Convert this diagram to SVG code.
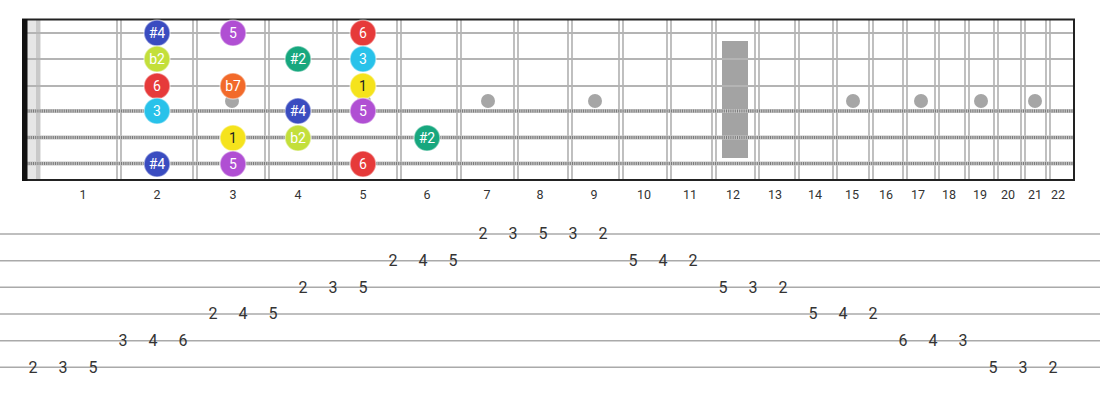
<svg xmlns="http://www.w3.org/2000/svg" width="1100" height="400" viewBox="0 0 1100 400">
<style>
.fret{stroke:#b0b0b0;stroke-width:1.6}
.plain{stroke:#b4b4b4;stroke-width:2.2}
.woundb{stroke:#c4c4c4;stroke-width:4}
.woundd{stroke:#7a7a7a;stroke-width:3;stroke-dasharray:1 1.2}
.dot{fill:#a6a6a6}
.fn{font-family:Roboto,"Liberation Sans",sans-serif;font-size:12.5px;fill:#333;text-anchor:middle}
.tabl{stroke:#aaa;stroke-width:1.6}
.tn{font-family:Roboto,"Liberation Sans",sans-serif;font-size:16px;fill:#333;text-anchor:middle}
.nc{stroke:rgba(255,255,255,0.45);stroke-width:1.6}
.nt{font-family:Roboto,"Liberation Sans",sans-serif;font-size:14px;fill:#fff;text-anchor:middle}
.dk{fill:#222}
.blue{fill:#3a4cc0}.purple{fill:#b04fd3}.red{fill:#e63a3a}.lime{fill:#c3df3a}.teal{fill:#17a77e}.cyan{fill:#28c2ea}.orange{fill:#f26a2a}.yellow{fill:#f5e31c}
</style>
<rect width="1100" height="400" fill="#fff"/>
<g id="fretboard">
  <rect x="27" y="19" width="14" height="162" fill="#e6e6e6"/>
  <rect x="36" y="19" width="4" height="162" fill="#c9c9c9"/>
  <rect x="722" y="41" width="26" height="117" fill="#a3a3a3"/>
  <g id="frets">
    <line class="fret" x1="117" y1="19" x2="117" y2="180"/><line class="fret" x1="121" y1="19" x2="121" y2="180"/>
    <line class="fret" x1="193" y1="19" x2="193" y2="180"/><line class="fret" x1="197" y1="19" x2="197" y2="180"/>
    <line class="fret" x1="265" y1="19" x2="265" y2="180"/><line class="fret" x1="269" y1="19" x2="269" y2="180"/>
    <line class="fret" x1="333" y1="19" x2="333" y2="180"/><line class="fret" x1="337" y1="19" x2="337" y2="180"/>
    <line class="fret" x1="397" y1="19" x2="397" y2="180"/><line class="fret" x1="401" y1="19" x2="401" y2="180"/>
    <line class="fret" x1="457" y1="19" x2="457" y2="180"/><line class="fret" x1="461" y1="19" x2="461" y2="180"/>
    <line class="fret" x1="514" y1="19" x2="514" y2="180"/><line class="fret" x1="518" y1="19" x2="518" y2="180"/>
    <line class="fret" x1="568" y1="19" x2="568" y2="180"/><line class="fret" x1="572" y1="19" x2="572" y2="180"/>
    <line class="fret" x1="619" y1="19" x2="619" y2="180"/><line class="fret" x1="623" y1="19" x2="623" y2="180"/>
    <line class="fret" x1="667" y1="19" x2="667" y2="180"/><line class="fret" x1="671" y1="19" x2="671" y2="180"/>
    <line class="fret" x1="712" y1="19" x2="712" y2="180"/><line class="fret" x1="716" y1="19" x2="716" y2="180"/>
    <line class="fret" x1="755" y1="19" x2="755" y2="180"/><line class="fret" x1="759" y1="19" x2="759" y2="180"/>
    <line class="fret" x1="795" y1="19" x2="795" y2="180"/><line class="fret" x1="799" y1="19" x2="799" y2="180"/>
    <line class="fret" x1="833" y1="19" x2="833" y2="180"/><line class="fret" x1="837" y1="19" x2="837" y2="180"/>
    <line class="fret" x1="869" y1="19" x2="869" y2="180"/><line class="fret" x1="873" y1="19" x2="873" y2="180"/>
    <line class="fret" x1="903" y1="19" x2="903" y2="180"/><line class="fret" x1="907" y1="19" x2="907" y2="180"/>
    <line class="fret" x1="935" y1="19" x2="935" y2="180"/><line class="fret" x1="939" y1="19" x2="939" y2="180"/>
    <line class="fret" x1="965" y1="19" x2="965" y2="180"/><line class="fret" x1="969" y1="19" x2="969" y2="180"/>
    <line class="fret" x1="994" y1="19" x2="994" y2="180"/><line class="fret" x1="998" y1="19" x2="998" y2="180"/>
    <line class="fret" x1="1021" y1="19" x2="1021" y2="180"/><line class="fret" x1="1025" y1="19" x2="1025" y2="180"/>
    <line class="fret" x1="1046" y1="19" x2="1046" y2="180"/><line class="fret" x1="1050" y1="19" x2="1050" y2="180"/>
  </g>
  <g id="inlays">
    <circle class="dot" cx="232" cy="101" r="7"/>
    <circle class="dot" cx="364" cy="101" r="7"/>
    <circle class="dot" cx="488" cy="101" r="7"/>
    <circle class="dot" cx="595" cy="101" r="7"/>
    <circle class="dot" cx="853" cy="101" r="7"/>
    <circle class="dot" cx="921" cy="101" r="7"/>
    <circle class="dot" cx="981" cy="101" r="7"/>
    <circle class="dot" cx="1035" cy="101" r="7"/>
  </g>
  <g id="strings">
    <line class="plain" x1="22" y1="33" x2="1075" y2="33"/>
    <line class="plain" x1="22" y1="59" x2="1075" y2="59"/>
    <line class="plain" x1="22" y1="86" x2="1075" y2="86"/>
    <line class="woundb" x1="22" y1="111" x2="1075" y2="111"/><line class="woundd" x1="22" y1="111" x2="1075" y2="111"/>
    <line class="woundb" x1="22" y1="137.5" x2="1075" y2="137.5"/><line class="woundd" x1="22" y1="137.5" x2="1075" y2="137.5"/>
    <line class="woundb" x1="22" y1="163.5" x2="1075" y2="163.5"/><line class="woundd" x1="22" y1="163.5" x2="1075" y2="163.5"/>
  </g>
  <line x1="22" y1="19.5" x2="1075" y2="19.5" stroke="#222" stroke-width="2"/>
  <line x1="22" y1="180" x2="1075" y2="180" stroke="#222" stroke-width="2"/>
  <line x1="1074" y1="19" x2="1074" y2="181" stroke="#222" stroke-width="2"/>
  <rect x="22" y="19" width="5.5" height="162" fill="#111"/>
</g>
<g id="fret-numbers">
  <text class="fn" x="83" y="199">1</text>
  <text class="fn" x="157" y="199">2</text>
  <text class="fn" x="233" y="199">3</text>
  <text class="fn" x="298" y="199">4</text>
  <text class="fn" x="363" y="199">5</text>
  <text class="fn" x="427" y="199">6</text>
  <text class="fn" x="487" y="199">7</text>
  <text class="fn" x="540" y="199">8</text>
  <text class="fn" x="594" y="199">9</text>
  <text class="fn" x="644" y="199">10</text>
  <text class="fn" x="690" y="199">11</text>
  <text class="fn" x="733" y="199">12</text>
  <text class="fn" x="775" y="199">13</text>
  <text class="fn" x="815" y="199">14</text>
  <text class="fn" x="852" y="199">15</text>
  <text class="fn" x="886" y="199">16</text>
  <text class="fn" x="918" y="199">17</text>
  <text class="fn" x="949" y="199">18</text>
  <text class="fn" x="980" y="199">19</text>
  <text class="fn" x="1008" y="199">20</text>
  <text class="fn" x="1035" y="199">21</text>
  <text class="fn" x="1058" y="199">22</text>
</g>
<g id="notes">
  <g id="n1-2"><circle class="nc blue" cx="157" cy="33" r="13"/><text class="nt" x="157" y="38">#4</text></g>
  <g id="n1-3"><circle class="nc purple" cx="233" cy="33" r="13"/><text class="nt" x="233" y="38">5</text></g>
  <g id="n1-5"><circle class="nc red" cx="363" cy="33" r="13"/><text class="nt" x="363" y="38">6</text></g>
  <g id="n2-2"><circle class="nc lime" cx="157" cy="59" r="13"/><text class="nt" x="157" y="64">b2</text></g>
  <g id="n2-4"><circle class="nc teal" cx="298" cy="59" r="13"/><text class="nt" x="298" y="64">#2</text></g>
  <g id="n2-5"><circle class="nc cyan" cx="363" cy="59" r="13"/><text class="nt" x="363" y="64">3</text></g>
  <g id="n3-2"><circle class="nc red" cx="157" cy="86" r="13"/><text class="nt" x="157" y="91">6</text></g>
  <g id="n3-3"><circle class="nc orange" cx="233" cy="86" r="13"/><text class="nt" x="233" y="91">b7</text></g>
  <g id="n3-5"><circle class="nc yellow" cx="363" cy="86" r="13"/><text class="nt dk" x="363" y="91">1</text></g>
  <g id="n4-2"><circle class="nc cyan" cx="157" cy="111" r="13"/><text class="nt" x="157" y="116">3</text></g>
  <g id="n4-4"><circle class="nc blue" cx="298" cy="111" r="13"/><text class="nt" x="298" y="116">#4</text></g>
  <g id="n4-5"><circle class="nc purple" cx="363" cy="111" r="13"/><text class="nt" x="363" y="116">5</text></g>
  <g id="n5-3"><circle class="nc yellow" cx="233" cy="138" r="13"/><text class="nt dk" x="233" y="143">1</text></g>
  <g id="n5-4"><circle class="nc lime" cx="298" cy="138" r="13"/><text class="nt" x="298" y="143">b2</text></g>
  <g id="n5-6"><circle class="nc teal" cx="427" cy="138" r="13"/><text class="nt" x="427" y="143">#2</text></g>
  <g id="n6-2"><circle class="nc blue" cx="157" cy="164" r="13"/><text class="nt" x="157" y="169">#4</text></g>
  <g id="n6-3"><circle class="nc purple" cx="233" cy="164" r="13"/><text class="nt" x="233" y="169">5</text></g>
  <g id="n6-5"><circle class="nc red" cx="363" cy="164" r="13"/><text class="nt" x="363" y="169">6</text></g>
</g>
<g id="tab-lines">
  <line class="tabl" x1="0" y1="234" x2="1100" y2="234"/>
  <line class="tabl" x1="0" y1="260.7" x2="1100" y2="260.7"/>
  <line class="tabl" x1="0" y1="287.3" x2="1100" y2="287.3"/>
  <line class="tabl" x1="0" y1="314" x2="1100" y2="314"/>
  <line class="tabl" x1="0" y1="340.7" x2="1100" y2="340.7"/>
  <line class="tabl" x1="0" y1="367.3" x2="1100" y2="367.3"/>
</g>
<g id="tab-numbers">
  <text class="tn" x="33" y="373">2</text><text class="tn" x="63" y="373">3</text><text class="tn" x="93" y="373">5</text>
  <text class="tn" x="123" y="346">3</text><text class="tn" x="153" y="346">4</text><text class="tn" x="183" y="346">6</text>
  <text class="tn" x="213" y="319">2</text><text class="tn" x="243" y="319">4</text><text class="tn" x="273" y="319">5</text>
  <text class="tn" x="303" y="293">2</text><text class="tn" x="333" y="293">3</text><text class="tn" x="363" y="293">5</text>
  <text class="tn" x="393" y="266">2</text><text class="tn" x="423" y="266">4</text><text class="tn" x="453" y="266">5</text>
  <text class="tn" x="483" y="239">2</text><text class="tn" x="513" y="239">3</text><text class="tn" x="543" y="239">5</text><text class="tn" x="573" y="239">3</text><text class="tn" x="603" y="239">2</text>
  <text class="tn" x="633" y="266">5</text><text class="tn" x="663" y="266">4</text><text class="tn" x="693" y="266">2</text>
  <text class="tn" x="723" y="293">5</text><text class="tn" x="753" y="293">3</text><text class="tn" x="783" y="293">2</text>
  <text class="tn" x="813" y="319">5</text><text class="tn" x="843" y="319">4</text><text class="tn" x="873" y="319">2</text>
  <text class="tn" x="903" y="346">6</text><text class="tn" x="933" y="346">4</text><text class="tn" x="963" y="346">3</text>
  <text class="tn" x="993" y="373">5</text><text class="tn" x="1023" y="373">3</text><text class="tn" x="1053" y="373">2</text>
</g>
</svg>
